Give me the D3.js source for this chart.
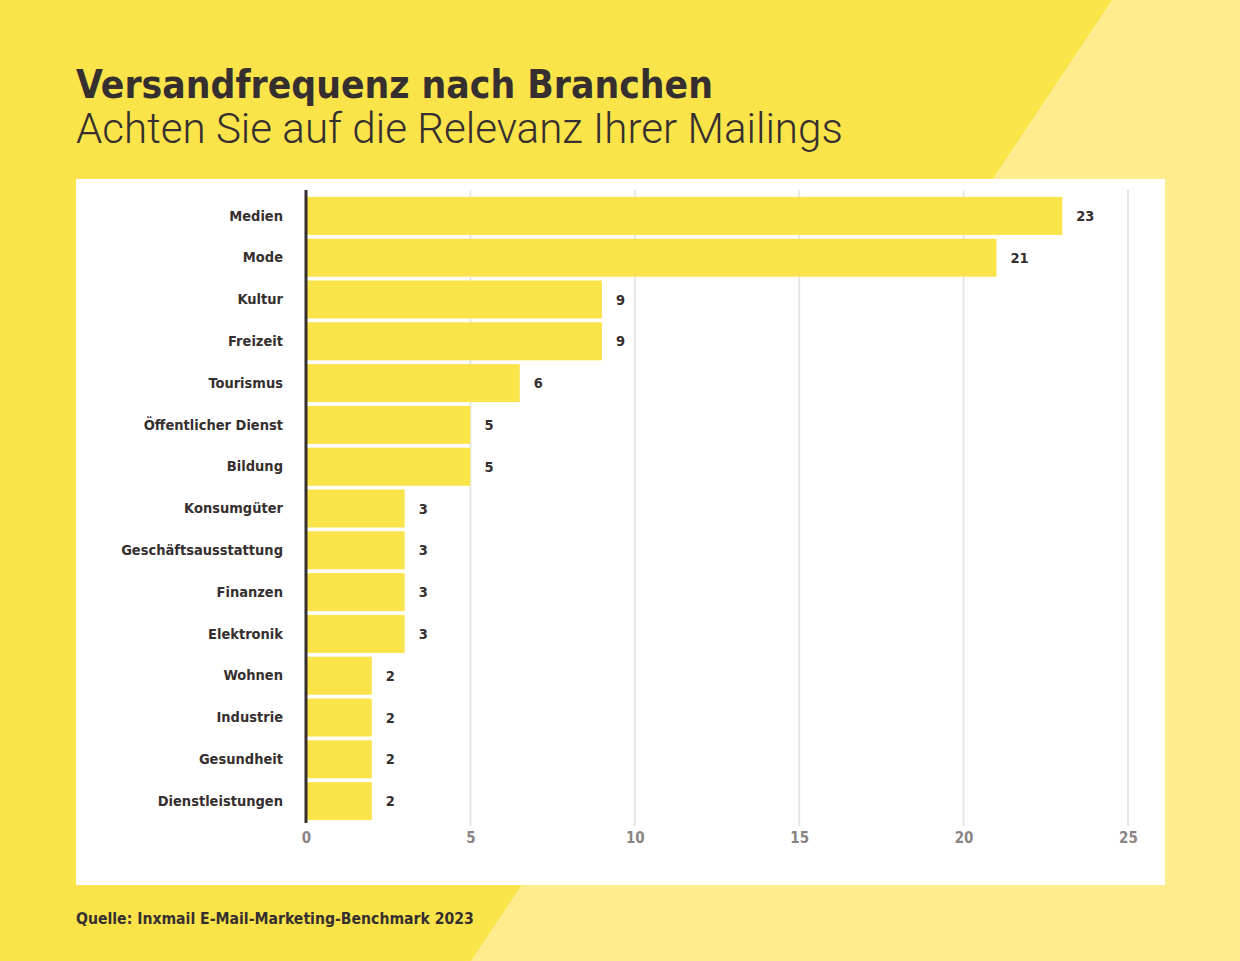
<!DOCTYPE html>
<html><head><meta charset="utf-8">
<script src="https://cdn.jsdelivr.net/npm/d3@7"></script>
<style>
html,body{margin:0;padding:0;background:#fbe44a;}
svg{display:block;}
</style></head>
<body>
<svg id="chart" width="1240" height="961"></svg>
<script>
const categories = ["Medien","Mode","Kultur","Freizeit","Tourismus","Öffentlicher Dienst","Bildung","Konsumgüter","Geschäftsausstattung","Finanzen","Elektronik","Wohnen","Industrie","Gesundheit","Dienstleistungen"];
const values = [23,21,9,9,6.5,5,5,3,3,3,3,2,2,2,2];
const valueLabels = ["23","21","9","9","6","5","5","3","3","3","3","2","2","2","2"];
const xTicks = [0,5,10,15,20,25];
const title = "Versandfrequenz nach Branchen";
const subtitle = "Achten Sie auf die Relevanz Ihrer Mailings";
const source = "Quelle: Inxmail E-Mail-Marketing-Benchmark 2023";

const svg = d3.select("#chart");
const dark = "#362f2f";
const boldFont = "'DejaVu Sans Condensed','DejaVu Sans',sans-serif";

// background
svg.append("rect").attr("width",1240).attr("height",961).attr("fill","#fbe44a");
svg.append("path").attr("d","M1112,0 L1240,0 L1240,961 L471,961 Z").attr("fill","#fded8e");

// white panel
svg.append("rect").attr("x",76).attr("y",179).attr("width",1089).attr("height",706).attr("fill","#ffffff");

// titles
function fitText(sel, width){
  const w = sel.node().getComputedTextLength();
  const fs = parseFloat(sel.attr("font-size"));
  sel.attr("font-size", fs*width/w);
}
const t = svg.append("text").attr("x",76).attr("y",98).attr("font-family",boldFont)
  .attr("font-weight","bold").attr("font-size",38).attr("fill",dark).text(title);
fitText(t, 637);
const st = svg.append("text").attr("x",76).attr("y",143).attr("font-family","Roboto, 'Open Sans', sans-serif")
  .attr("font-weight","300").attr("font-size",40).attr("fill",dark).text(subtitle);
fitText(st, 767);

// scales
const x = d3.scaleLinear().domain([0,25]).range([306,1128]);
const y = d3.scaleBand().domain(categories).range([195,822]).paddingInner(0.09).paddingOuter(0.045);

// grid
svg.append("g").selectAll("line").data(xTicks.filter(d=>d>0)).join("line")
  .attr("x1",d=>x(d)).attr("x2",d=>x(d)).attr("y1",190).attr("y2",826)
  .attr("stroke","#e6e6e6").attr("stroke-width",2);

// bars
svg.append("g").selectAll("rect").data(values).join("rect")
  .attr("x",x(0)).attr("y",(d,i)=>y(categories[i]))
  .attr("width",d=>x(d)-x(0)).attr("height",y.bandwidth())
  .attr("fill","#fbe44a");

// value labels
svg.append("g").selectAll("text").data(values).join("text")
  .attr("x",d=>x(d)+14).attr("y",(d,i)=>y(categories[i])+y.bandwidth()/2)
  .attr("dy","0.35em").attr("font-family",boldFont).attr("font-weight","bold")
  .attr("font-size",14.5).attr("fill",dark).text((d,i)=>valueLabels[i]);

// category axis
const yAxis = svg.append("g").attr("transform","translate(283,0)")
  .call(d3.axisLeft(y).tickSize(0).tickPadding(0));
yAxis.select(".domain").remove();
yAxis.selectAll("text").attr("font-family",boldFont).attr("font-weight","bold")
  .attr("font-size",14.5).attr("fill",dark);

// baseline
svg.append("line").attr("x1",x(0)).attr("x2",x(0)).attr("y1",190).attr("y2",823)
  .attr("stroke",dark).attr("stroke-width",3);

// x axis
const xAxis = svg.append("g").attr("transform","translate(0,828)")
  .call(d3.axisBottom(x).tickValues(xTicks).tickSize(0).tickPadding(4));
xAxis.select(".domain").remove();
xAxis.selectAll("text").attr("font-family",boldFont).attr("font-weight","bold")
  .attr("font-size",15).attr("fill","#8a8484");

// source
const src = svg.append("text").attr("x",76).attr("y",924).attr("font-family",boldFont).attr("font-weight","bold")
  .attr("font-size",15).attr("fill",dark).text(source);
fitText(src, 398);
</script>
</body></html>
